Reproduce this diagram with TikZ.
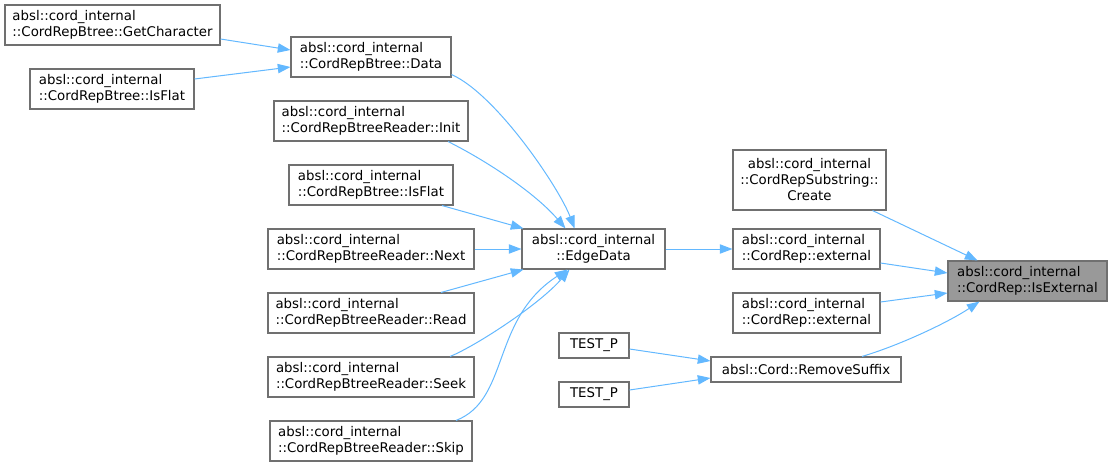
\documentclass[tikz,border=0pt]{standalone}
\usepackage{fontspec}
\setmainfont{DejaVu Sans}
\usetikzlibrary{calc,arrows.meta}
\definecolor{edgecol}{HTML}{63B8FF}
\definecolor{bordercol}{HTML}{707070}
\definecolor{hlfill}{HTML}{999999}
\begin{document}
\begin{tikzpicture}[x=0.75pt,y=-0.75pt,
  box/.style={draw=bordercol, fill=white, line width=0.8pt, inner sep=0pt,
    align=left, font=\fontsize{10}{12}\selectfont, minimum height=30pt},
  cbox/.style={box, align=center},
  bw/.style={minimum width=#1*0.75pt},
  bh/.style={minimum height=#1*0.75pt},
  hl/.style={fill=hlfill},
  conn/.style={draw=edgecol, line width=0.75pt, -{Triangle[length=9.5pt,width=7pt]}}]
\useasboundingbox (0,0) rectangle (1112,467);

\node[box,bw=215] (gc) at (112.5,25) {absl::cord\_internal\\::CordRepBtree::GetCharacter};
\node[box,bw=164] (if1) at (112,89) {absl::cord\_internal\\::CordRepBtree::IsFlat};
\node[box,bw=160] (data) at (371,57) {absl::cord\_internal\\::CordRepBtree::Data};
\node[box,bw=194] (init) at (371,121) {absl::cord\_internal\\::CordRepBtreeReader::Init};
\node[box,bw=164] (if2) at (371,185) {absl::cord\_internal\\::CordRepBtree::IsFlat};
\node[box,bw=206] (next) at (371,249) {absl::cord\_internal\\::CordRepBtreeReader::Next};
\node[box,bw=206] (read) at (371,313) {absl::cord\_internal\\::CordRepBtreeReader::Read};
\node[box,bw=206] (seek) at (371,377) {absl::cord\_internal\\::CordRepBtreeReader::Seek};
\node[box,bw=202] (skip) at (371,441) {absl::cord\_internal\\::CordRepBtreeReader::Skip};
\node[cbox,bw=143] (edge) at (593.5,249) {absl::cord\_internal\\::EdgeData};
\node[box,bw=70,bh=25] (tp1) at (594,345.5) {TEST\_P};
\node[box,bw=70,bh=25] (tp2) at (594,394.5) {TEST\_P};
\node[cbox,bw=153,bh=60] (create) at (809.5,180) {absl::cord\_internal\\::CordRepSubstring::\\Create};
\node[box,bw=147] (ext1) at (806.5,249) {absl::cord\_internal\\::CordRep::external};
\node[box,bw=147] (ext2) at (806.5,313) {absl::cord\_internal\\::CordRep::external};
\node[box,hl,bw=159] (isext) at (1027.5,281) {absl::cord\_internal\\::CordRep::IsExternal};
\node[box,bw=190,bh=25] (rs) at (806,369.5) {absl::Cord::RemoveSuffix};

\draw[conn] ($(gc.east)+(0,14)$) -- ($(data.west)+(0,-7)$);
\draw[conn] ($(if1.east)+(0,-10)$) -- ($(data.west)+(0,10)$);
\draw[conn] ($(data.south east)+(0,-3)$) .. controls +(45,20) and +(-15,-40) .. ($(edge.north)+(-19,0)$);
\draw[conn] ($(init.south)+(77,0)$) .. controls +(40,20) and +(-30,-35) .. ($(edge.north)+(-28,0)$);
\draw[conn] ($(if2.south)+(71,0)$) -- ($(edge.north west)+(2,0)$);
\draw[conn] (next.east) -- (edge.west);
\draw[conn] ($(read.north)+(70,0)$) -- ($(edge.south west)+(2,0)$);
\draw[conn] ($(seek.north)+(79,0)$) .. controls +(25,-10) and +(-30,35) .. ($(edge.south)+(-24,0)$);
\draw[conn] ($(skip.north)+(85,0)$) .. controls +(54,-21) and +(-77,50) .. ($(edge.south)+(-26,0)$);
\draw[conn] (edge.east) -- (ext1.west);
\draw[conn] ($(create.south)+(63,0)$) -- ($(isext.north)+(-50,0)$);
\draw[conn] ($(ext1.east)+(0,14)$) -- ($(isext.west)+(0,-8)$);
\draw[conn] ($(ext2.east)+(0,-11)$) -- ($(isext.west)+(0,12)$);
\draw[conn] ($(rs.north)+(56,0)$) .. controls +(40,-12) and +(-30,20) .. ($(isext.south)+(-48,0)$);
\draw[conn] ($(tp1.east)+(0,3.5)$) -- ($(rs.west)+(0,-8.5)$);
\draw[conn] ($(tp2.east)+(0,-4.5)$) -- ($(rs.west)+(0,8.5)$);
\end{tikzpicture}
\end{document}
